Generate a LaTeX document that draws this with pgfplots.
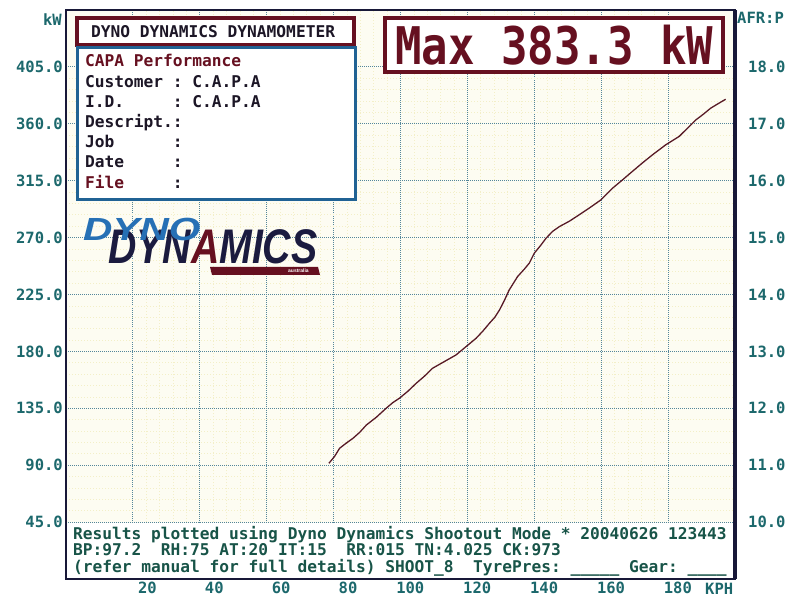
\documentclass[border=0pt]{standalone}
\usepackage{pgfplots}
\pgfplotsset{compat=1.18}
\usepackage{fontspec}
\newfontfamily\mono{DejaVu Sans Mono}
\newfontfamily\logofont{Liberation Sans}
\definecolor{tickteal}{RGB}{28,104,108}
\definecolor{boxtext}{RGB}{24,84,72}
\definecolor{infotext}{RGB}{28,22,38}
\definecolor{maroon}{RGB}{102,16,32}
\definecolor{infoblue}{RGB}{32,98,148}
\definecolor{framenavy}{RGB}{24,24,56}
\definecolor{gridmaj}{RGB}{84,134,154}
\definecolor{gridmin}{RGB}{243,239,200}
\definecolor{plotbg}{RGB}{253,252,242}
\definecolor{curvecol}{RGB}{88,26,38}
\definecolor{logoblue}{RGB}{38,112,181}
\definecolor{logonavy}{RGB}{27,27,63}
\newcommand{\dfont}{\mono\bfseries\fontsize{16.2}{17}\selectfont}
\begin{document}
\begin{tikzpicture}[x=1pt,y=1pt]
\useasboundingbox (0,0) rectangle (800,600);
\fill[white] (0,0) rectangle (800,600);
\begin{axis}[
  at={(66pt,21pt)}, anchor=south west, scale only axis,
  width=669pt, height=569pt,
  xmin=0, xmax=200, ymin=0, ymax=450,
  axis background/.style={fill=plotbg},
  xtick={20,40,60,80,100,120,140,160,180},
  xticklabels={20,40,60,80,100,120,140,160,180},
  ytick={45,90,135,180,225,270,315,360,405},
  yticklabels={45.0,90.0,135.0,180.0,225.0,270.0,315.0,360.0,405.0},
  minor x tick num=4, minor y tick num=4,
  grid=both,
  major grid style={draw=gridmaj, line width=1pt, dash pattern=on 1pt off 1pt},
  minor grid style={draw=gridmin, line width=0.7pt, dash pattern=on 1pt off 2pt},
  major tick length=0pt, minor tick length=0pt,
  axis line style={draw=none},
  tick label style={font=\mono\bfseries\fontsize{15.5}{16}\selectfont, text=tickteal, inner sep=0pt},
  xticklabel style={anchor=north east, xshift=24pt, yshift=-3pt},
  yticklabel style={anchor=east, xshift=-3pt},
]
\addplot[curvecol, line width=1.3pt, mark=none] coordinates {
(78.6,91.5) (80.3,97.0) (81.8,103.4) (83.8,107.5) (85.8,111.3) (87.8,116.0)
(89.8,121.8) (92.8,128.0) (95.7,135.0) (97.7,139.5) (99.7,143.0)
(102.2,148.5) (104.7,154.8) (107.2,160.5) (109.6,166.7) (113.0,171.8)
(116.6,177.2) (119.6,183.8) (122.6,190.4) (124.6,196.0) (126.6,202.3)
(128.2,207.0) (129.6,212.8) (131.0,220.0) (132.5,228.6) (135.0,239.2)
(137.0,245.0) (138.5,249.8) (140.0,257.7) (141.8,263.5) (143.5,269.5)
(145.5,275.0) (147.5,278.7) (150.5,283.0) (153.4,288.0) (156.4,293.3)
(159.9,299.8) (163.4,309.1) (166.3,315.5) (169.3,322.3) (172.3,329.0)
(175.3,335.4) (179.3,343.4) (183.3,350.0) (185.8,356.5) (188.3,363.1)
(190.5,367.5) (192.7,372.3) (195.0,376.0) (197.2,379.4)
};
\end{axis}
\begin{axis}[
  at={(66pt,21pt)}, anchor=south west, scale only axis,
  width=669pt, height=569pt,
  xmin=0, xmax=200, ymin=9, ymax=19,
  hide x axis, axis y line*=right, axis line style={draw=none},
  ytick={10,11,12,13,14,15,16,17,18},
  yticklabels={10.0,11.0,12.0,13.0,14.0,15.0,16.0,17.0,18.0},
  major tick length=0pt,
  tick label style={font=\mono\bfseries\fontsize{15.5}{16}\selectfont, text=tickteal, inner sep=0pt},
  yticklabel style={anchor=west, xshift=13pt},
]
\addplot[draw=none] coordinates {(0,9) (200,19)};
\end{axis}
% bottom info box
\fill[white] (67,22) rectangle (734,77.4);
\node[anchor=base west, inner sep=0, text=boxtext] at (73,61) {\dfont Results~plotted~using~Dyno~Dynamics~Shootout~Mode~*~20040626~123443};
\node[anchor=base west, inner sep=0, text=boxtext] at (73,45) {\dfont BP:97.2~~RH:75~AT:20~IT:15~~RR:015~TN:4.025~CK:973};
\node[anchor=base west, inner sep=0, text=boxtext] at (73,28) {\dfont (refer~manual~for~full~details)~SHOOT\_8~~TyrePres:~\_\_\_\_\_~Gear:~\_\_\_\_};
% frame
\draw[framenavy, line width=2.2pt] (66,21) rectangle (735,590);
\draw[framenavy, line width=3.5pt] (735,21) -- (735,590);
% axis unit labels
\node[anchor=base east, inner sep=0, text=tickteal] at (62,574) {\mono\bfseries\fontsize{15.5}{16}\selectfont kW};
\node[anchor=base west, inner sep=0, text=tickteal] at (737,576) {\mono\bfseries\fontsize{15.5}{16}\selectfont AFR:P};
\node[anchor=base west, inner sep=0, text=tickteal] at (705,6) {\mono\bfseries\fontsize{15.5}{16}\selectfont KPH};
% header box
\draw[maroon, line width=3.5pt, fill=white] (77,582) rectangle (354,555);
\node[anchor=base west, inner sep=0, text=infotext] at (91,562) {\dfont DYNO~DYNAMICS~DYNAMOMETER};
% info box
\draw[infoblue, line width=3pt, fill=white] (77,552) rectangle (355,400);
\node[anchor=base west, inner sep=0, text=maroon] at (85,533) {\dfont CAPA~Performance};
\node[anchor=base west, inner sep=0, text=infotext] at (85,512) {\dfont Customer~:~C.A.P.A};
\node[anchor=base west, inner sep=0, text=infotext] at (85,492) {\dfont I.D.~~~~~:~C.A.P.A};
\node[anchor=base west, inner sep=0, text=infotext] at (85,472) {\dfont Descript.:};
\node[anchor=base west, inner sep=0, text=infotext] at (85,452) {\dfont Job~~~~~~:};
\node[anchor=base west, inner sep=0, text=infotext] at (85,432) {\dfont Date~~~~~:};
\node[anchor=base west, inner sep=0, text=maroon] at (85,411) {\dfont File~~~~~\textcolor{infotext}{:}};
% max box
\draw[maroon, line width=3.5pt, fill=white] (385,582) rectangle (723,528);
\node[anchor=base west, inner sep=0, text=maroon] at (395,535) {\scalebox{1}[1.18]{\mono\bfseries\fontsize{44}{44}\selectfont Max~383.3~kW}};
% logo
\fill[maroon] (210,333) -- (318,333) -- (320,325) -- (212,325) -- cycle;
\node[anchor=base west, inner sep=0, text=logonavy] at (108,336) {\scalebox{1.09}[1.35]{\logofont\bfseries\itshape\fontsize{36}{36}\selectfont DYN\textcolor{maroon}{A}MICS}};
\node[anchor=base west, inner sep=0, text=logoblue] at (83,359) {\scalebox{1.27}[1.0]{\logofont\bfseries\itshape\fontsize{32}{32}\selectfont DYNO}};
\node[anchor=base west, inner sep=0, text=white] at (288,327.5) {\logofont\bfseries\fontsize{5}{5}\selectfont australia};
\end{tikzpicture}
\end{document}
